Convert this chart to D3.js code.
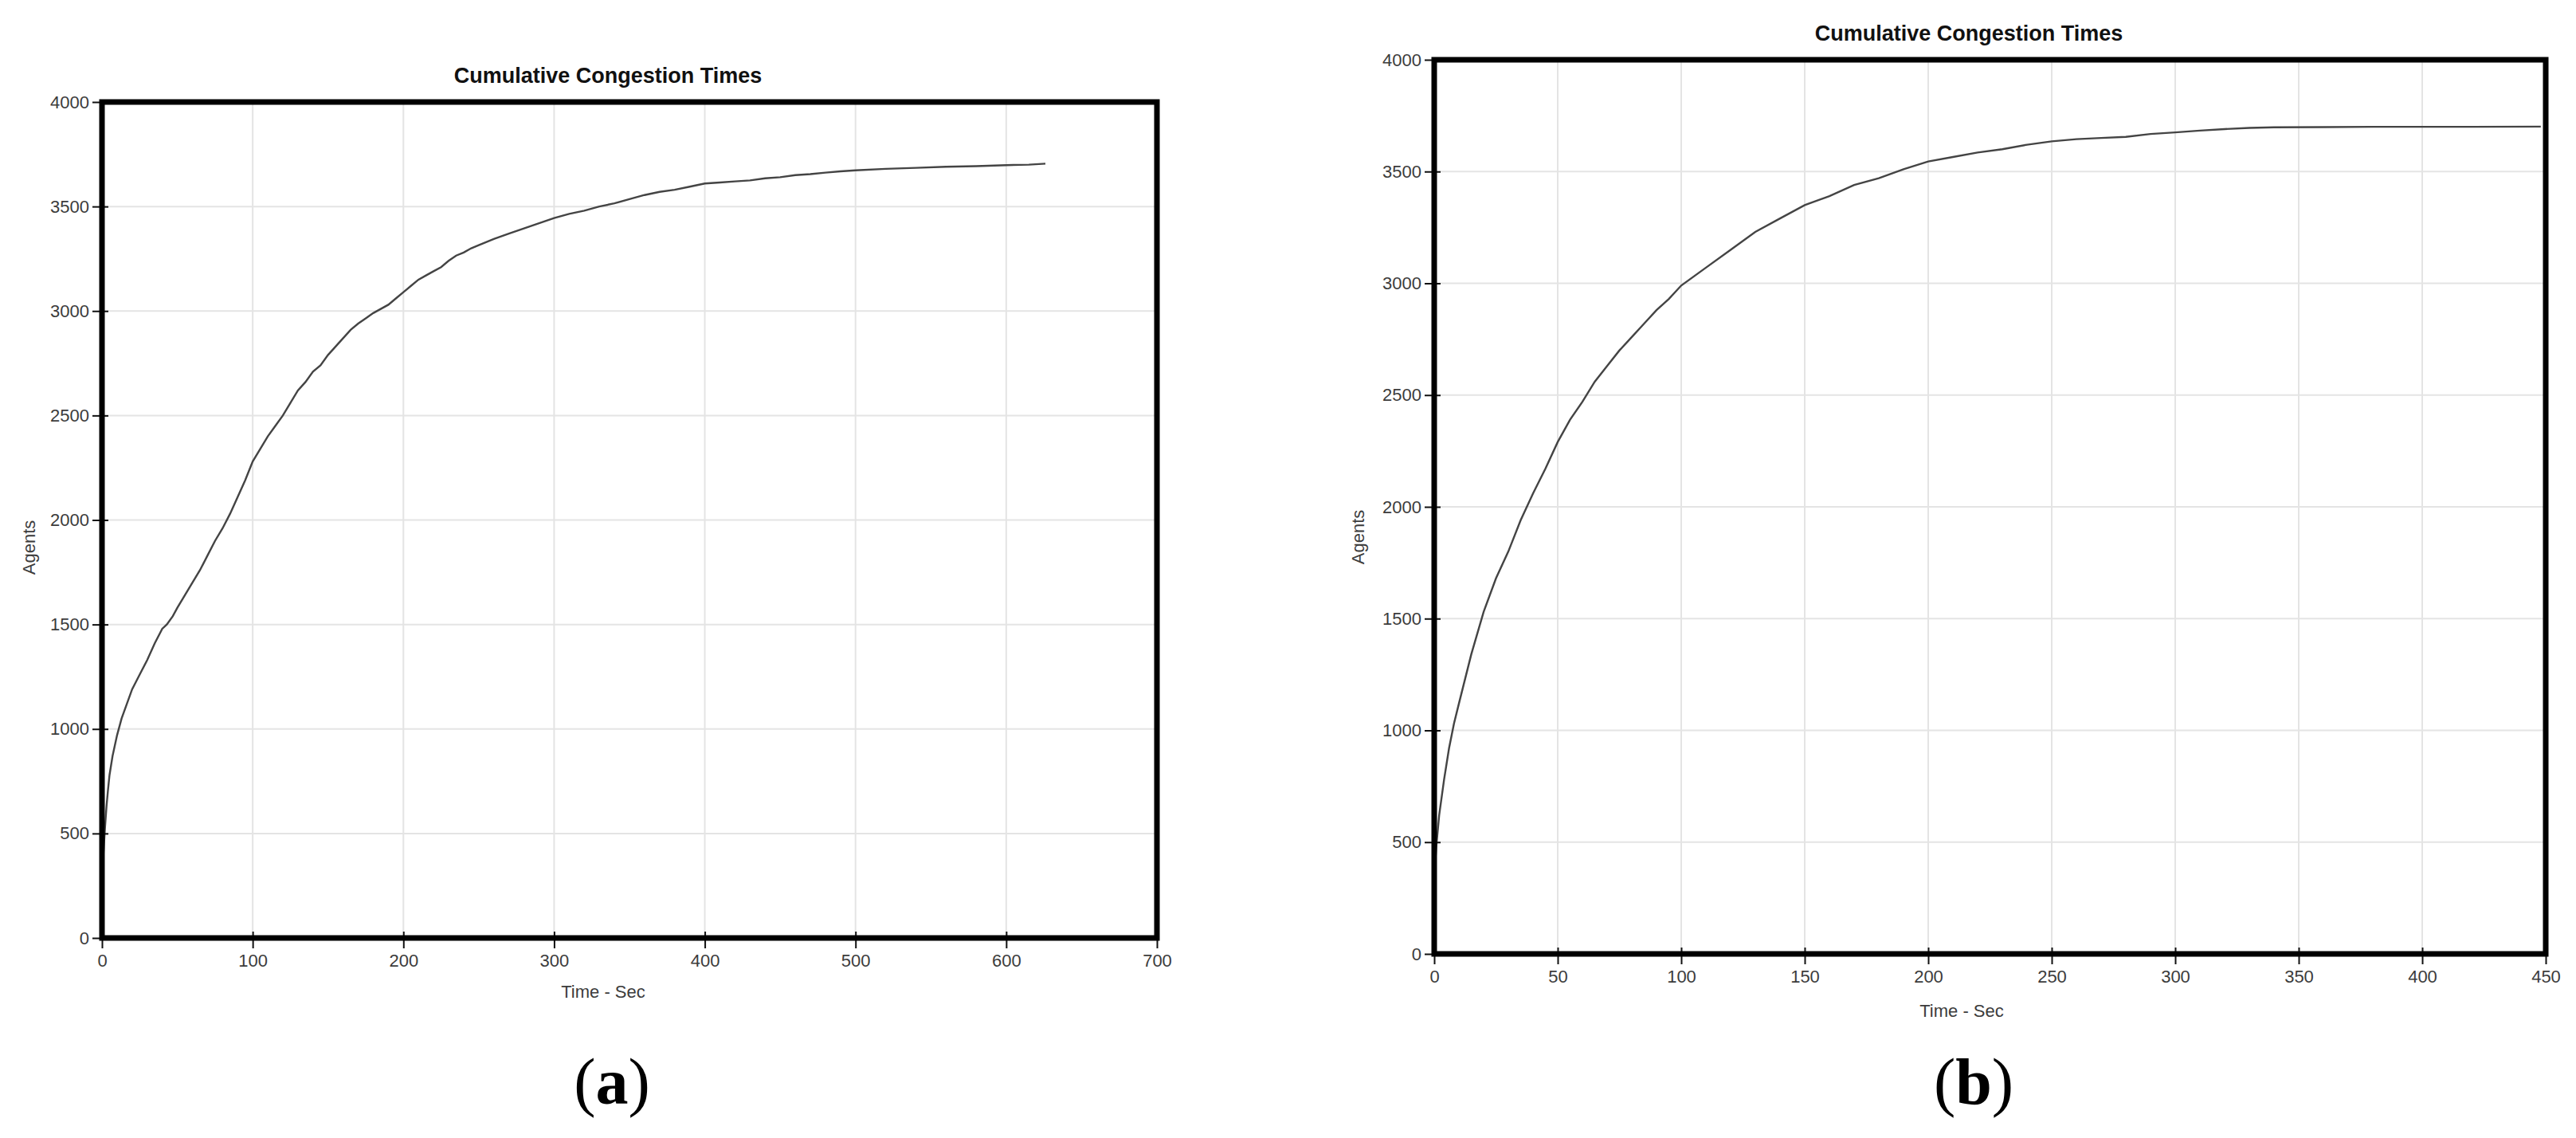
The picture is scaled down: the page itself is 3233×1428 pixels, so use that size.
<!DOCTYPE html>
<html>
<head>
    <meta charset="UTF-8">
    <title>Cumulative Congestion Times</title>
    <script src="https://d3js.org/d3.v7.min.js"></script>
    <style>
        body { margin: 0; background: #fff; }
    </style>
</head>
<body>
    <div id="my_dataviz"></div>
    <script>

        // data
        var timesA = [0, 1, 2, 3, 4, 5, 7, 10, 13, 16, 20, 25, 30, 35, 40, 43, 47, 50, 55, 60, 65, 70, 75, 80, 85, 90, 95,
            100, 105, 110, 115, 120, 125, 130, 135, 140, 145, 150, 155, 160, 165, 170, 175, 180, 185, 190, 195, 200, 205,
            210, 215, 220, 225, 230, 235, 240, 245, 250, 260, 270, 280, 290, 300, 310, 320, 330, 340, 350, 360, 370, 380,
            390, 400, 410, 420, 430, 440, 450, 460, 470, 480, 490, 500, 520, 540, 560, 580, 600, 615, 626];
        var agentsA = [280, 410, 530, 630, 710, 780, 870, 970, 1050, 1110, 1190, 1260, 1330, 1410, 1480, 1500, 1540, 1580,
            1640, 1700, 1760, 1830, 1900, 1960, 2030, 2110, 2190, 2280, 2340, 2400, 2450, 2500, 2560, 2620, 2660, 2710,
            2740, 2790, 2830, 2870, 2910, 2940, 2965, 2990, 3010, 3030, 3060, 3090, 3120, 3150, 3170, 3190, 3210, 3240,
            3265, 3280, 3300, 3315, 3345, 3370, 3395, 3420, 3445, 3465, 3480, 3500, 3515, 3535, 3555, 3570, 3580, 3595,
            3610, 3615, 3620, 3625, 3635, 3640, 3650, 3655, 3662, 3668, 3673, 3680, 3685, 3690, 3693, 3698, 3700, 3705];

        var timesB = [0, 1, 2, 4, 6, 8, 10, 15, 20, 25, 30, 35, 40, 45, 50, 55, 60, 65, 70, 75, 80, 85, 90, 95, 100, 110,
            120, 130, 140, 150, 160, 170, 180, 190, 200, 210, 220, 230, 240, 250, 260, 270, 280, 290, 300, 310, 320, 330,
            340, 360, 380, 400, 420, 448];
        var agentsB = [350, 500, 620, 780, 920, 1030, 1120, 1340, 1530, 1680, 1800, 1940, 2060, 2170, 2290, 2390, 2470,
            2560, 2630, 2700, 2760, 2820, 2880, 2930, 2990, 3070, 3150, 3230, 3290, 3350, 3390, 3440, 3470, 3510, 3545,
            3565, 3585, 3600, 3620, 3635, 3645, 3650, 3655, 3668, 3675, 3683, 3690, 3695, 3698, 3699, 3700, 3700, 3700, 3701];

        var xTicksA = [0, 100, 200, 300, 400, 500, 600, 700];
        var xTicksB = [0, 50, 100, 150, 200, 250, 300, 350, 400, 450];
        var yTicks = [0, 500, 1000, 1500, 2000, 2500, 3000, 3500, 4000];

        var svg = d3.select("#my_dataviz")
            .append("svg")
            .attr("width", 3233)
            .attr("height", 1428);

        function drawChart(opt) {
            var x = d3.scaleLinear().domain([0, opt.xMax]).range([opt.left, opt.right]);
            var y = d3.scaleLinear().domain([0, 4000]).range([opt.bottom, opt.top]);
            var g = svg.append("g");

            // grid
            g.selectAll(".vgrid")
                .data(opt.xTicks)
                .enter().append("line")
                .attr("x1", function (d) { return x(d) })
                .attr("x2", function (d) { return x(d) })
                .attr("y1", opt.top)
                .attr("y2", opt.bottom)
                .style("stroke", "#e4e4e4")
                .style("stroke-width", 2);
            g.selectAll(".hgrid")
                .data(yTicks)
                .enter().append("line")
                .attr("x1", opt.left)
                .attr("x2", opt.right)
                .attr("y1", function (d) { return y(d) })
                .attr("y2", function (d) { return y(d) })
                .style("stroke", "#e4e4e4")
                .style("stroke-width", 2);

            // the curve
            var pts = opt.times.map(function (t, i) { return [t, opt.agents[i]] });
            g.append("path")
                .datum(pts)
                .attr("d", d3.line().x(function (d) { return x(d[0]) }).y(function (d) { return y(d[1]) }))
                .style("fill", "none")
                .style("stroke", "#444")
                .style("stroke-width", 2.4);

            // axes
            var xa = g.append("g")
                .attr("transform", "translate(0," + opt.bottom + ")")
                .call(d3.axisBottom(x).tickValues(opt.xTicks).tickFormat(d3.format("d"))
                    .tickSize(13).tickPadding(7).tickSizeOuter(0));
            xa.selectAll(".tick line").attr("y1", -8).style("stroke", "#111").style("stroke-width", 2);
            var ya = g.append("g")
                .attr("transform", "translate(" + opt.left + ",0)")
                .call(d3.axisLeft(y).tickValues(yTicks).tickFormat(d3.format("d"))
                    .tickSize(12).tickPadding(4).tickSizeOuter(0));
            ya.selectAll(".tick line").attr("x1", 8).style("stroke", "#111").style("stroke-width", 2);
            g.selectAll(".domain").remove();
            g.selectAll(".tick text")
                .style("font-family", "Liberation Sans, Arial, sans-serif")
                .style("font-size", "22px")
                .style("fill", "#3c3c3c");

            // frame
            g.append("rect")
                .attr("x", opt.left)
                .attr("y", opt.top)
                .attr("width", opt.right - opt.left)
                .attr("height", opt.bottom - opt.top)
                .style("fill", "none")
                .style("stroke", "#000")
                .style("stroke-width", 7);

            g.append("text")
                .attr("x", opt.titleX)
                .attr("y", opt.titleY)
                .attr("text-anchor", "middle")
                .style("font-family", "Liberation Sans, Arial, sans-serif")
                .style("font-weight", "bold")
                .style("font-size", "27px")
                .style("fill", "#111")
                .text("Cumulative Congestion Times");

            g.append("text")
                .attr("x", opt.xLabelX)
                .attr("y", opt.xLabelY)
                .attr("text-anchor", "middle")
                .style("font-family", "Liberation Sans, Arial, sans-serif")
                .style("font-size", "22px")
                .style("fill", "#3c3c3c")
                .text("Time - Sec");

            g.append("text")
                .attr("transform", "translate(" + opt.yLabelX + "," + opt.yLabelY + ") rotate(-90)")
                .attr("text-anchor", "middle")
                .style("font-family", "Liberation Sans, Arial, sans-serif")
                .style("font-size", "22px")
                .style("fill", "#3c3c3c")
                .text("Agents");

            var cap = g.append("text")
                .attr("x", opt.capX)
                .attr("y", 1385)
                .attr("text-anchor", "middle")
                .style("font-family", "Liberation Serif, Times New Roman, serif")
                .style("font-size", "82px")
                .style("fill", "#000");
            cap.append("tspan").text("(");
            cap.append("tspan").style("font-weight", "bold").text(opt.letter);
            cap.append("tspan").text(")");
        }

        drawChart({
            times: timesA, agents: agentsA, xTicks: xTicksA, xMax: 700,
            left: 128, right: 1452, top: 128, bottom: 1177,
            titleX: 763, titleY: 104, xLabelX: 757, xLabelY: 1252, yLabelX: 44, yLabelY: 687,
            capX: 768, letter: "a"
        });
        drawChart({
            times: timesB, agents: agentsB, xTicks: xTicksB, xMax: 450,
            left: 1800, right: 3195, top: 75, bottom: 1197,
            titleX: 2471, titleY: 51, xLabelX: 2462, xLabelY: 1276, yLabelX: 1712, yLabelY: 674,
            capX: 2477, letter: "b"
        });

    </script>
</body>
</html>
